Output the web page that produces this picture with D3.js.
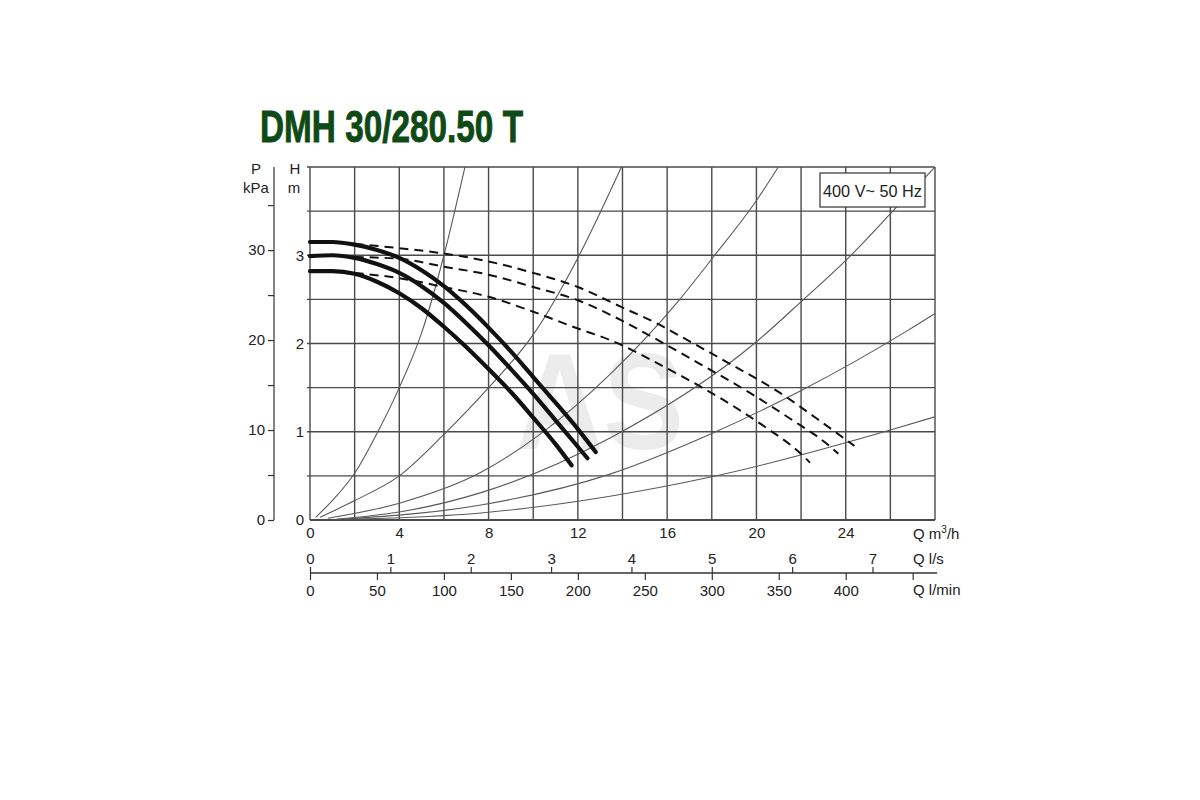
<!DOCTYPE html>
<html>
<head>
<meta charset="utf-8">
<script src="https://cdn.jsdelivr.net/npm/d3@7"></script>
<style>
  html, body { margin: 0; padding: 0; background: #ffffff; }
  svg { display: block; }
  text { font-family: "Liberation Sans", Arial, sans-serif; }
</style>
</head>
<body>
<script>
// ---------------- DATA ----------------
const titleText = "DMH 30/280.50 T";
const legendText = "400 V~ 50 Hz";

const qTickLabels = [0, 4, 8, 12, 16, 20, 24];          // m³/h
const qGrid = [0, 2, 4, 6, 8, 10, 12, 14, 16, 18, 20, 22, 24, 26, 28];
const hTickLabels = [0, 1, 2, 3];                       // m
const hGrid = [0, 0.5, 1, 1.5, 2, 2.5, 3, 3.5, 4];
const pTicks = [0, 5, 10, 15, 20, 25, 30, 35];          // kPa
const pTickLabels = [0, 10, 20, 30];
const lsTicks = [0, 1, 2, 3, 4, 5, 6, 7];               // l/s
const lminTicks = [0, 50, 100, 150, 200, 250, 300, 350, 400, 450]; // l/min
const lminTickLabels = [0, 50, 100, 150, 200, 250, 300, 350, 400];

// System (network) curves: [Q m³/h, H m]
const system1 = [[0.25,0.03],[1,0.22],[2,0.53],[3,0.98],[4,1.5],[5,2.12],[6,3.0],[6.94,4.0]];
const system2 = [[0.45,0.03],[2,0.22],[4,0.5],[6,0.97],[8,1.5],[10,2.1],[12,2.97],[13.95,4.0]];
const system3 = [[0.8,0.02],[4,0.19],[7.66,0.54],[10.3,0.97],[13.44,1.65],[16.5,2.48],[18.07,2.98],[20,3.62],[20.98,4.0]];
const system4 = [[1.2,0.01],[4,0.09],[7.66,0.31],[13.44,0.93],[20,2.02],[22.03,2.48],[24.04,2.95],[26.3,3.55],[28,4.0]];
const system5 = [[1.5,0.01],[7.66,0.17],[13.44,0.52],[18,0.98],[22.03,1.47],[26.73,2.14],[28,2.34]];
const system6 = [[2,0.01],[7.66,0.08],[13.44,0.27],[18,0.49],[26,1.02],[28,1.17]];

// Pump curves, solid (thick)
const pumpSolidHigh = [[0,3.15],[1,3.15],[2,3.12],[3,3.06],[4,2.97],[5,2.83],[6,2.65],[7,2.43],[8,2.18],[9,1.91],[10,1.62],[11,1.33],[12,1.03],[12.8,0.77]];
const pumpSolidMid  = [[0,2.99],[1,3.0],[2,2.97],[3,2.9],[4,2.8],[5,2.65],[6,2.46],[7,2.23],[8,1.98],[9,1.71],[10,1.43],[11,1.13],[12,0.83],[12.43,0.7]];
const pumpSolidLow  = [[0,2.82],[1,2.82],[2,2.79],[3,2.7],[4,2.57],[5,2.4],[6,2.19],[7,1.96],[8,1.71],[9,1.45],[10,1.16],[11,0.86],[11.72,0.62]];

// Pump curves, dashed
const pumpDashHigh = [[2,3.13],[4,3.08],[6,3.02],[8,2.93],[10,2.8],[12,2.64],[13.89,2.42],[15.68,2.21],[16.4,2.11],[18.67,1.79],[21.06,1.44],[22.7,1.15],[23.9,0.93],[24.39,0.84]];
const pumpDashMid  = [[2,2.98],[4,2.96],[6,2.87],[8,2.78],[10,2.64],[12,2.49],[13.89,2.27],[14.78,2.15],[17.32,1.79],[19.71,1.44],[21.5,1.15],[23.22,0.85],[23.67,0.75]];
const pumpDashLow  = [[2,2.8],[4,2.74],[6,2.64],[8,2.53],[10,2.36],[12,2.17],[13.44,2.04],[15.98,1.72],[18.52,1.36],[20.24,1.08],[21.95,0.76],[22.4,0.65]];

const systemCurves = [system1, system2, system3, system4, system5, system6];
const solidCurves = [pumpSolidHigh, pumpSolidMid, pumpSolidLow];
const dashedCurves = [pumpDashHigh, pumpDashMid, pumpDashLow];

// ---------------- LAYOUT ----------------
const W = 1200, H = 800;
const x = d3.scaleLinear().domain([0, 28]).range([310, 935]);
const y = d3.scaleLinear().domain([0, 4]).range([520, 167]);
const yP = d3.scaleLinear().domain([0, 4 * 9.81]).range([520, 167]);
const xLs = d3.scaleLinear().domain([0, 28 / 3.6]).range([310, 935]);
const xLmin = d3.scaleLinear().domain([0, 28 * 1000 / 60]).range([310, 935]);

const svg = d3.select("body").append("svg").attr("width", W).attr("height", H);
svg.append("rect").attr("width", W).attr("height", H).attr("fill", "#fff");

// Title
svg.append("text")
  .attr("x", 260).attr("y", 142)
  .attr("font-size", 45).attr("font-weight", "bold")
  .attr("fill", "#0f4a16").attr("stroke", "#0f4a16").attr("stroke-width", 0.9)
  .attr("textLength", 263).attr("lengthAdjust", "spacingAndGlyphs")
  .text(titleText);

// Watermark
svg.append("text")
  .attr("x", 516).attr("y", 449)
  .attr("font-size", 138).attr("font-weight", "bold")
  .attr("fill", "#ececec")
  .attr("textLength", 168).attr("lengthAdjust", "spacingAndGlyphs")
  .text("AS");

// Grid
const grid = svg.append("g");
grid.selectAll("line.v").data(qGrid).join("line")
  .attr("x1", d => x(d)).attr("x2", d => x(d))
  .attr("y1", y(4)).attr("y2", y(0))
  .attr("stroke", "#4a4a4a").attr("stroke-width", 1.4);
grid.selectAll("line.h").data(hGrid).join("line")
  .attr("x1", d => d === 0 ? x(0) : x(0) - 3).attr("x2", x(28))
  .attr("y1", d => y(d)).attr("y2", d => y(d))
  .attr("stroke", "#4a4a4a").attr("stroke-width", d => d === 0 ? 2 : 1.4);

// System curves
const line = d3.line().x(d => x(d[0])).y(d => y(d[1])).curve(d3.curveMonotoneX);
svg.append("g").selectAll("path").data(systemCurves).join("path")
  .attr("d", line).attr("fill", "none")
  .attr("stroke", "#5a5a5a").attr("stroke-width", 1.1);

// Dashed pump curves
svg.append("g").selectAll("path").data(dashedCurves).join("path")
  .attr("d", line).attr("fill", "none")
  .attr("stroke", "#111").attr("stroke-width", 2)
  .attr("stroke-dasharray", "9,6");

// Solid pump curves
svg.append("g").selectAll("path").data(solidCurves).join("path")
  .attr("d", line).attr("fill", "none")
  .attr("stroke", "#111").attr("stroke-width", 4.2)
  .attr("stroke-linecap", "round");

// Legend box
const lg = svg.append("g");
lg.append("rect").attr("x", 820).attr("y", 173).attr("width", 105).attr("height", 34)
  .attr("fill", "#fff").attr("stroke", "#333").attr("stroke-width", 1.2);
lg.append("text").attr("x", 872.5).attr("y", 197).attr("text-anchor", "middle")
  .attr("font-size", 16.5).attr("fill", "#222")
  .attr("textLength", 99).attr("lengthAdjust", "spacingAndGlyphs")
  .text(legendText);

// H axis labels
const hAxis = d3.axisLeft(y).tickValues(hTickLabels).tickSize(0).tickPadding(6).tickFormat(d3.format("d"));
const gH = svg.append("g").attr("transform", `translate(${x(0)},0)`).call(hAxis);
gH.select(".domain").remove();
gH.selectAll("text").attr("font-size", 15).attr("fill", "#222").attr("font-family", "Liberation Sans, Arial, sans-serif");

// P axis
const pAxis = d3.axisLeft(yP).tickValues(pTicks).tickSize(6).tickSizeOuter(0).tickPadding(3)
  .tickFormat(d => pTickLabels.includes(d) ? d : "");
const gP = svg.append("g").attr("transform", "translate(274,0)").call(pAxis);
gP.select(".domain").attr("stroke", "#333").attr("stroke-width", 1.2).attr("d", `M0,${y(4)}V${y(0)}`);
gP.selectAll(".tick line").attr("stroke", "#333").attr("stroke-width", 1.2);
gP.selectAll("text").attr("font-size", 15).attr("fill", "#222").attr("font-family", "Liberation Sans, Arial, sans-serif");

// Axis titles (left)
const axT = svg.append("g").attr("font-size", 15).attr("fill", "#222").attr("text-anchor", "middle");
axT.append("text").attr("x", 256).attr("y", 174).text("P");
axT.append("text").attr("x", 256).attr("y", 193).text("kPa");
axT.append("text").attr("x", 295).attr("y", 174).text("H");
axT.append("text").attr("x", 294).attr("y", 193).text("m");

// Q m³/h axis labels
const qAxis = d3.axisBottom(x).tickValues(qTickLabels).tickSize(0).tickPadding(7).tickFormat(d3.format("d"));
const gQ = svg.append("g").attr("transform", `translate(0,${y(0)})`).call(qAxis);
gQ.select(".domain").remove();
gQ.selectAll("text").attr("font-size", 15).attr("fill", "#222").attr("font-family", "Liberation Sans, Arial, sans-serif");
const qm = svg.append("text").attr("x", 913).attr("y", 539).attr("font-size", 15).attr("fill", "#222");
qm.append("tspan").text("Q m");
qm.append("tspan").attr("font-size", 10).attr("dy", -6).text("3");
qm.append("tspan").attr("dy", 6).text("/h");

// l/s axis (ticks up) and l/min axis (ticks down) sharing a line
const axisY = 573;
const lsAxis = d3.axisTop(xLs).tickValues(lsTicks).tickSize(6).tickSizeOuter(0).tickPadding(3).tickFormat(d3.format("d"));
const gLs = svg.append("g").attr("transform", `translate(0,${axisY})`).call(lsAxis);
gLs.select(".domain").remove();
gLs.selectAll(".tick line").attr("stroke", "#333").attr("stroke-width", 1.2);
gLs.selectAll("text").attr("font-size", 15).attr("fill", "#222").attr("font-family", "Liberation Sans, Arial, sans-serif");

const lminAxis = d3.axisBottom(xLmin).tickValues(lminTicks).tickSize(7).tickSizeOuter(0).tickPadding(5)
  .tickFormat(d => lminTickLabels.includes(d) ? d : "");
const gLm = svg.append("g").attr("transform", `translate(0,${axisY})`).call(lminAxis);
gLm.select(".domain").attr("d", `M${x(0)},0H937`).attr("stroke", "#333").attr("stroke-width", 1.3);
gLm.selectAll(".tick line").attr("stroke", "#333").attr("stroke-width", 1.2);
gLm.selectAll("text").attr("font-size", 15).attr("fill", "#222").attr("font-family", "Liberation Sans, Arial, sans-serif");

svg.append("text").attr("x", 913).attr("y", 564).attr("font-size", 15).attr("fill", "#222").text("Q l/s");
svg.append("text").attr("x", 913).attr("y", 595).attr("font-size", 15).attr("fill", "#222").text("Q l/min");
</script>
</body>
</html>
